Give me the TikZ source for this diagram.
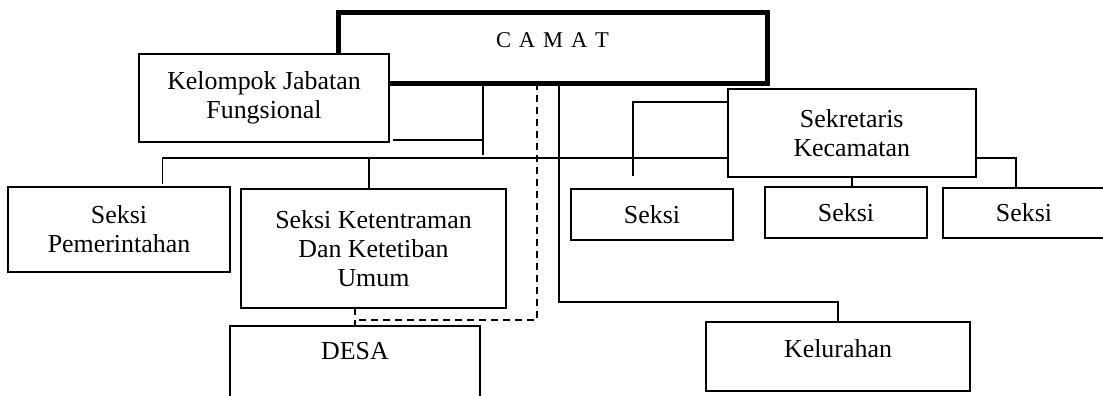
\documentclass[tikz,border=0pt]{standalone}
\usepackage{fontspec}
\setmainfont{Liberation Serif}
\usetikzlibrary{calc}
\newcommand\palfont{\fontsize{26}{29}\selectfont}
\newcommand\camatfont{\fontsize{22.6}{27}\selectfont}
\begin{document}
\begin{tikzpicture}[x=1bp,y=-1bp,
  box/.style={draw, fill=white, line width=2bp, rectangle, inner sep=0pt, outer sep=0pt, align=center, font=\palfont},
  link/.style={line width=1.7bp},
  dashlink/.style={line width=1.7bp, dash pattern=on 7bp off 5bp},
  lbl/.style={inner sep=0pt, font=\palfont, anchor=base}]
\useasboundingbox (0,0) rectangle (1103,395);
\clip (0,0) rectangle (1103,395);
% boxes
\node[box, line width=5bp, minimum width=429bp, minimum height=70.5bp] (camat) at (552.5,47.75) {};
\node[lbl, font=\camatfont] (camatlbl) at (552.5,47) {C\hspace{0.35em}A\hspace{0.35em}M\hspace{0.35em}A\hspace{0.35em}T};
\node[box, minimum width=250bp, minimum height=88bp] (kel) at (264,98) {Kelompok Jabatan\\Fungsional};
\node[box, minimum width=222bp, minimum height=85bp] (pem) at (119,229.5) {Seksi\\Pemerintahan};
\node[box, minimum width=265bp, minimum height=119bp] (ket) at (373.5,248.5) {Seksi Ketentraman\\Dan Ketetiban\\Umum};
\node[box, minimum width=250bp, minimum height=94bp] (desa) at (355,373) {};
\node[lbl] (desalbl) at (355,359) {DESA};
\node[box, minimum width=264bp, minimum height=69bp] (kelur) at (838,356.5) {};
\node[lbl] (kelurlbl) at (838,357) {Kelurahan};
\node[box, minimum width=248.5bp, minimum height=88bp] (sek) at (851.75,133) {Sekretaris\\Kecamatan};
\node[box, minimum width=162bp, minimum height=51bp] (s1) at (652,214.5) {Seksi};
\node[box, minimum width=162bp, minimum height=51bp] (s2) at (846,212.5) {Seksi};
\node[box, minimum width=162bp, minimum height=50bp] (s3) at (1024,213) {Seksi};
% connectors
\coordinate (kj) at (483,155);
\draw[link] (camat.south -| kj) -- (kj);
\draw[link] ([xshift=4bp,yshift=2bp]kel.south east) -- ([yshift=2bp]kel.south east -| kj);
\coordinate (bl) at (162.5,158);
\draw[link] ([yshift=3bp]pem.north -| bl) |- (sek.west |- bl);
\coordinate (kd) at (369,158);
\draw[link] (kd) -- (kd |- ket.north);
\coordinate (dc) at (537,320);
\draw[dashlink] (camat.south -| dc) -- (dc) -- (dc -| desa.north) -- (desa.north);
\draw[dashlink] (ket.south -| desa.north) -- (desa.north);
\coordinate (cv) at (559,302);
\draw[link] (camat.south -| cv) -- (cv) -| (kelur.north);
\coordinate (slt) at (633,102);
\coordinate (slb) at (633,176);
\draw[link] (sek.west |- slt) -- (slt) -- (slb);
\draw[link] (sek.south) -- (sek.south |- s2.north);
\coordinate (sr) at (1016,158);
\draw[link] (sek.east |- sr) -- (sr) -- (sr |- s3.north);
\end{tikzpicture}
\end{document}
